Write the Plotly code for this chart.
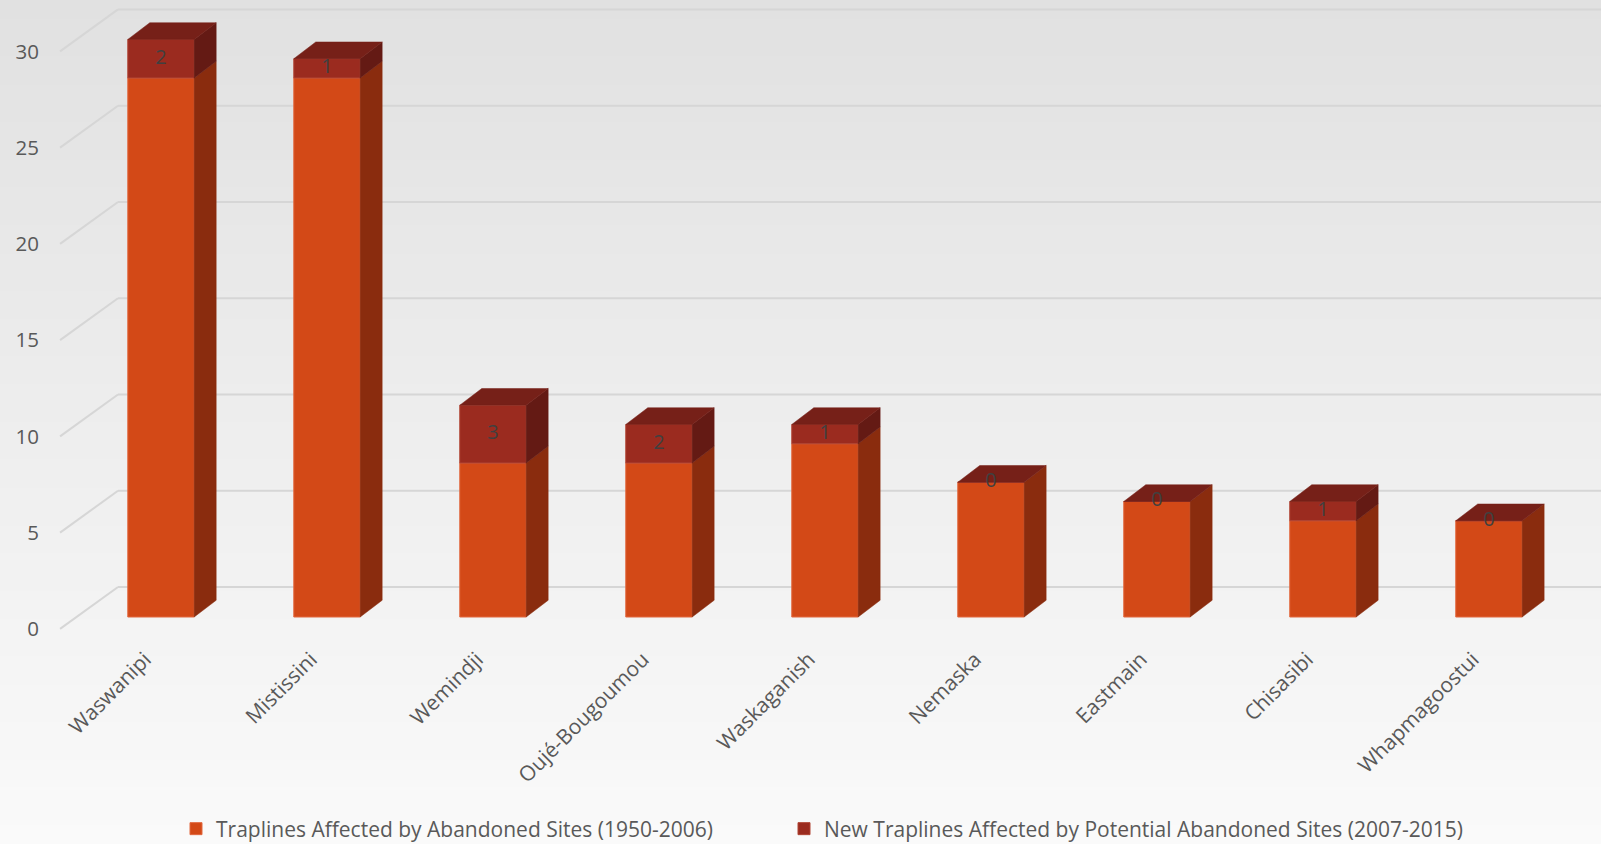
import plotly.graph_objects as go

# ---------------- data ----------------
communities = ["Waswanipi", "Mistissini", "Wemindji", "Oujé-Bougoumou", "Waskaganish",
               "Nemaska", "Eastmain", "Chisasibi", "Whapmagoostui"]
abandoned_1950_2006 = [28, 28, 8, 8, 9, 7, 6, 5, 5]
potential_2007_2015 = [2, 1, 3, 2, 1, 0, 0, 1, 0]
y_tick_values = [0, 5, 10, 15, 20, 25, 30]
series_names = ["Traplines Affected by Abandoned Sites (1950-2006)",
                "New Traplines Affected by Potential Abandoned Sites (2007-2015)"]

# ---------------- style ----------------
W, H = 1601, 844
PLOT_H = 640
front1, side1 = "#D34917", "#8A2C0E"
front2, side2, top2 = "#9B2B1F", "#641A14", "#762018"
grid_col = "#D6D6D6"
txt_col = "#595959"
FONT = "Open Sans"

bar_w = 0.40                      # category units
dx_bar, dy_bar = 0.1325, 0.87     # 3-D depth of bars (cat units, value units)
wall_x_front, floor_dx = -0.608, 0.349
floor_front, floor_back = -0.62, 1.56
x_range = [-0.6807, 8.675]
y_range = [-1.195, 32.05]

n = len(communities)
xs = list(range(n))
totals = [a + b for a, b in zip(abandoned_1950_2006, potential_2007_2015)]

fig = go.Figure()

shapes = []
# ---- background gradient (paper coords) ----
steps = 90
c0, c1 = 0xE1, 0xFA
for k in range(steps):
    c = round(c0 + (c1 - c0) * k / (steps - 1))
    ytop_px = k * H / steps
    ybot_px = (k + 1) * H / steps + 1
    shapes.append(dict(type="rect", xref="paper", yref="paper", layer="below",
                       x0=-0.1, x1=1.1,
                       y0=(PLOT_H - ybot_px) / PLOT_H, y1=(PLOT_H - ytop_px) / PLOT_H,
                       fillcolor=f"rgb({c},{c},{c})", line=dict(width=0)))

# ---- back wall gridlines + side-wall diagonals (data coords) ----
for v in y_tick_values:
    shapes.append(dict(type="line", xref="x", yref="y", layer="below",
                       x0=wall_x_front, y0=v + floor_front,
                       x1=wall_x_front + floor_dx, y1=v + floor_back,
                       line=dict(color=grid_col, width=2)))
    shapes.append(dict(type="line", xref="x", yref="y", layer="below",
                       x0=wall_x_front + floor_dx, y0=v + floor_back,
                       x1=x_range[1] + 1, y1=v + floor_back,
                       line=dict(color=grid_col, width=2)))


def poly(xp, yp, color):
    fig.add_trace(go.Scatter(x=xp, y=yp, mode="lines", fill="toself", fillcolor=color,
                             line=dict(color=color, width=0.5), hoverinfo="skip",
                             showlegend=False))


# ---- side faces and top faces ----
sx1, sy1, sx2, sy2, tx, ty = [], [], [], [], [], []
for i in xs:
    r = i + bar_w / 2
    l = i - bar_w / 2
    a = abandoned_1950_2006[i]
    t = totals[i]
    sx1 += [r, r + dx_bar, r + dx_bar, r, r, None]
    sy1 += [0, dy_bar, a + dy_bar, a, 0, None]
    if potential_2007_2015[i] > 0:
        sx2 += [r, r + dx_bar, r + dx_bar, r, r, None]
        sy2 += [a, a + dy_bar, t + dy_bar, t, a, None]
    tx += [l, l + dx_bar, r + dx_bar, r, l, None]
    ty += [t, t + dy_bar, t + dy_bar, t, t, None]
poly(sx1, sy1, side1)
poly(sx2, sy2, side2)
poly(tx, ty, top2)

# ---- front faces (stacked bars) ----
fig.add_trace(go.Bar(x=xs, y=abandoned_1950_2006, name=series_names[0], width=bar_w,
                     legend="legend",
                     marker=dict(color=front1, line=dict(color="#E2683F", width=1))))
fig.add_trace(go.Bar(x=xs, y=potential_2007_2015, base=abandoned_1950_2006, name=series_names[1],
                     width=bar_w, legend="legend2",
                     marker=dict(color=front2, line=dict(color="#B04535", width=1))))

# ---- data labels (second series) ----
fig.add_trace(go.Scatter(
    x=xs, y=[a + b / 2 for a, b in zip(abandoned_1950_2006, potential_2007_2015)],
    mode="text", text=[str(v) for v in potential_2007_2015],
    textfont=dict(family=FONT, size=20, color="#404040"),
    hoverinfo="skip", showlegend=False))

legend_common = dict(orientation="h", xref="container", yref="container",
                     xanchor="left", y=(H - 829) / H, yanchor="middle",
                     font=dict(size=21, color=txt_col, family=FONT),
                     bgcolor="rgba(0,0,0,0)", itemwidth=30)

fig.update_layout(
    width=W, height=H,
    margin=dict(l=48, r=0, t=0, b=H - PLOT_H, pad=0, autoexpand=False),
    barmode="overlay",
    paper_bgcolor="#EEEEEE",
    plot_bgcolor="rgba(0,0,0,0)",
    shapes=shapes,
    font=dict(family=FONT, color=txt_col),
    xaxis=dict(range=x_range, tickmode="array", tickvals=xs, ticktext=communities,
               tickangle=-45, showgrid=False, zeroline=False, showline=False,
               ticks="", tickfont=dict(size=21, color=txt_col, family=FONT),
               ticklabelshift=-16, ticklabelstandoff=2, automargin=False),
    yaxis=dict(range=y_range, tickmode="array", tickvals=y_tick_values,
               showgrid=False, zeroline=False, showline=False, ticks="",
               tickfont=dict(size=20.5, color=txt_col, family=FONT),
               ticklabelshift=12, ticklabelstandoff=8, automargin=False),
    legend=dict(x=176 / W, **legend_common),
    legend2=dict(x=784 / W, **legend_common),
    showlegend=True,
)

fig.write_html("out.html")
